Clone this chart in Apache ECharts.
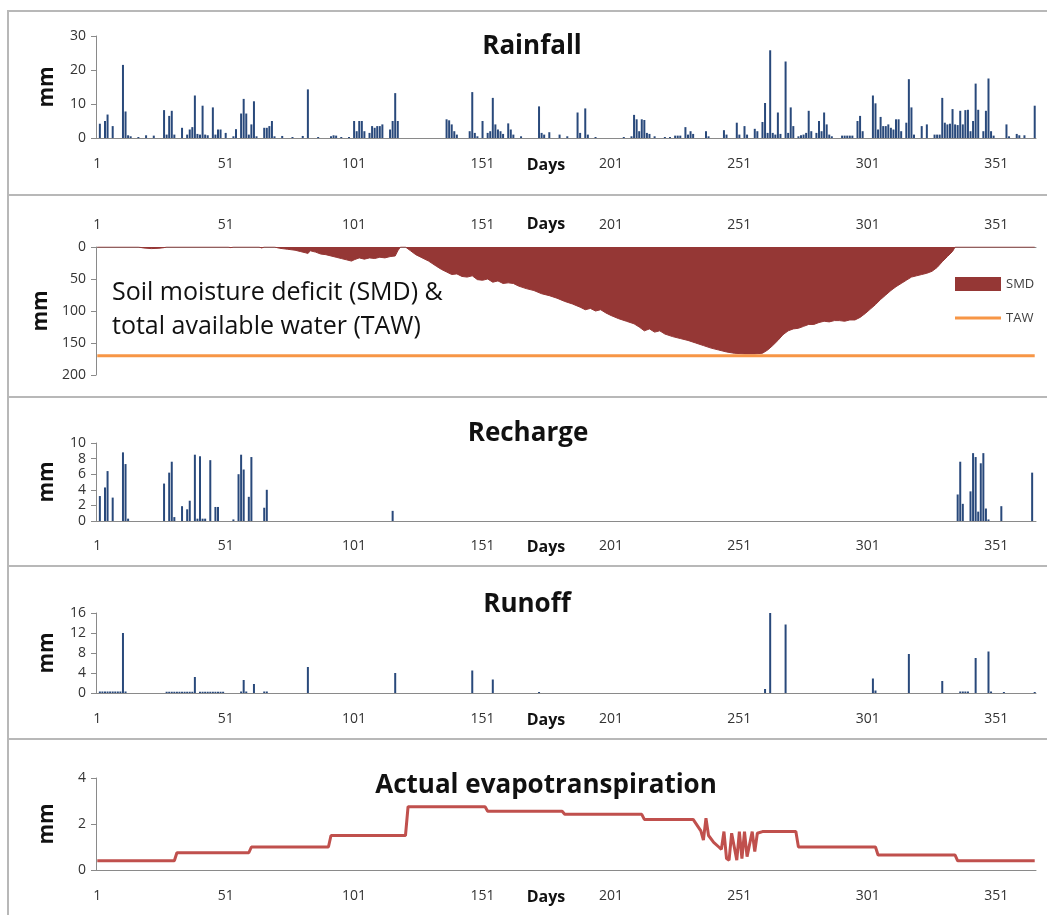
<!DOCTYPE html>
<html><head><meta charset="utf-8">
<script src="https://cdn.jsdelivr.net/npm/echarts@6/dist/echarts.min.js"></script>
<style>html,body{margin:0;padding:0;background:#fff}#c{width:1047px;height:915px}</style>
</head><body><div id="c"></div>
<script>
// ---------- data ----------
const dayCount = 366;
const xTickLabels = ['1','51','101','151','201','251','301','351'];

const rainDays = [
  2,4,5,7,11,12,13,14,17,20,
  23,27,28,29,30,31,34,36,37,38,
  39,40,41,42,43,44,46,47,48,49,
  51,54,55,57,58,59,60,61,62,63,
  66,67,68,69,70,73,77,81,83,87,
  92,93,94,96,99,101,102,103,104,105,
  107,108,109,110,111,112,115,116,117,118,
  137,138,139,140,141,146,147,148,149,151,
  153,154,155,156,157,158,159,161,162,163,
  166,173,174,175,177,181,184,188,189,191,
  192,195,206,209,210,211,212,213,214,215,
  216,218,222,224,226,227,228,230,231,232,
  233,238,239,245,246,250,251,253,254,257,
  258,260,261,262,263,264,265,266,267,269,
  270,271,272,274,275,276,277,278,279,281,
  282,283,284,285,286,287,291,292,293,294,
  295,297,298,299,303,304,305,306,307,308,
  309,310,311,312,313,314,316,317,318,319,
  322,324,327,328,329,330,331,332,333,334,
  335,336,337,338,339,340,341,342,343,344,
  346,347,348,349,350,355,356,359,360,362,
  366];
const rainMm = [
  4.2,5.0,6.9,3.5,21.5,7.8,0.8,0.5,0.3,0.8,
  0.7,8.2,1.0,6.5,8.0,1.0,3.0,1.0,2.5,3.2,
  12.5,1.2,1.0,9.5,1.0,0.8,9.0,1.0,2.5,2.5,
  1.5,0.5,2.6,7.2,11.5,7.2,1.0,4.0,10.8,0.5,
  3.0,3.0,3.5,5.0,0.5,0.6,0.3,0.6,14.3,0.3,
  0.5,0.8,0.7,0.3,0.3,5.0,2.0,5.0,5.0,2.0,
  1.5,3.5,3.0,3.5,3.5,4.0,2.5,5.0,13.2,5.0,
  5.5,5.2,4.0,2.0,1.0,2.0,13.5,1.5,0.5,5.0,
  1.5,2.0,11.8,4.0,2.5,2.0,1.2,4.3,2.5,1.0,
  0.5,9.3,1.5,1.0,1.7,1.0,0.5,7.5,1.5,8.7,
  1.0,0.3,0.3,0.5,6.8,5.5,2.0,5.5,5.3,1.5,
  1.2,0.5,0.3,0.3,0.7,0.7,0.7,3.2,1.0,2.0,
  1.2,2.0,0.5,2.3,1.0,4.5,1.0,3.5,1.0,2.7,
  2.0,4.7,10.3,1.5,25.8,1.5,1.0,7.5,1.2,22.5,
  1.5,9.0,3.5,0.5,0.8,1.0,1.5,8.0,2.0,1.5,
  5.0,2.0,7.5,4.0,1.0,0.5,0.7,0.7,0.7,0.7,
  0.7,5.0,6.5,2.0,12.5,10.2,2.5,6.2,3.5,3.5,
  4.0,3.0,2.5,5.5,5.5,2.0,4.5,17.3,9.0,1.0,
  3.5,4.0,1.0,1.0,1.0,11.8,4.5,4.0,4.2,8.5,
  4.0,3.8,8.0,4.0,8.2,8.3,2.0,5.0,16.0,8.3,
  2.0,8.0,17.5,2.0,0.7,4.0,0.5,1.2,0.8,0.8,
  9.5];

const smdDays = [
  1,17,19,22,25,27,28,52,53,54,
  64,65,66,70,72,75,78,80,82,83,
  84,86,88,90,92,94,96,98,100,101,
  103,105,107,109,111,113,115,117,118,119,
  121,123,125,127,130,133,135,137,139,141,
  143,145,147,149,151,153,155,157,159,161,
  163,165,168,171,174,177,180,183,186,189,
  191,193,195,197,199,201,204,207,210,212,
  214,216,218,220,222,225,228,231,234,237,
  240,243,246,249,253,257,260,262,264,266,
  268,270,272,274,276,278,280,282,284,286,
  288,290,292,294,296,298,300,302,304,306,
  308,310,312,314,316,318,320,322,324,326,
  328,330,332,334,335,366];
const smdMm = [
  0,0,1.5,2.5,2,1,0,0,1,0,
  0,1.5,0,0,2,3.5,5,7,9,10,
  6,8,11,12,14,16,18,20,22,20,
  17,19,17,18,16,17,15,14,6,0,
  0,6,12,16,22,30,35,39,43,42,
  46,47,45,51,52,50,55,53,57,56,
  57,61,65,68,73,76,80,85,89,94,
  98,96,100,98,103,107,112,116,120,125,
  131,128,133,131,136,140,143,146,150,154,
  158,161,164,166,167,167,166,161,154,146,
  137,131,128,127,124,121,121,118,116,117,
  115,115,116,114,114,110,104,97,90,82,
  75,68,62,57,52,47,45,43,41,38,
  32,23,15,7,0,0];
const tawDays = [1, 366];
const tawMm = [170, 170];

const rechargeDays = [2,4,5,7,11,12,13,27,29,30,31,34,36,37,39,40,41,42,43,45,47,48,54,56,57,58,60,61,66,67,116,336,337,338,341,342,343,344,345,346,347,348,353,365];
const rechargeMm   = [3.2,4.3,6.4,3.0,8.8,7.3,0.3,4.8,6.2,7.6,0.5,1.9,1.5,2.6,8.5,0.3,8.3,0.3,0.3,7.8,1.8,1.8,0.2,6.0,8.5,6.6,3.1,8.2,1.7,4.0,1.3,3.4,7.6,2.2,3.8,8.7,8.2,1.2,7.4,8.7,1.6,0.2,1.9,6.2];

const runoffDays = [2,3,4,5,6,7,8,9,10,11,12,28,29,30,31,32,33,34,35,36,37,38,39,41,42,43,44,45,46,47,48,49,50,57,58,59,62,66,67,83,117,147,155,173,261,263,269,303,304,317,330,337,338,339,340,343,348,349,354,366];
const runoffMm   = [0.3,0.3,0.3,0.3,0.3,0.3,0.3,0.3,0.3,12.0,0.3,0.25,0.25,0.25,0.25,0.25,0.25,0.25,0.25,0.25,0.25,0.25,3.2,0.25,0.25,0.25,0.25,0.25,0.25,0.25,0.25,0.25,0.25,0.3,2.6,0.3,1.8,0.3,0.3,5.2,4.0,4.5,2.7,0.2,0.8,16.0,13.7,2.9,0.5,7.8,2.4,0.3,0.3,0.3,0.3,7.0,8.3,0.3,0.2,0.2];

const etDays = [1,31,32,60,61,91,92,121,122,152,153,182,183,213,214,233,236,237,238,239,241,243,244,245,246,247,248,250,251,252,253,254,256,257,258,260,273,274,304,305,335,336,366];
const etMm   = [0.4,0.4,0.75,0.75,1.0,1.0,1.5,1.5,2.75,2.75,2.55,2.55,2.42,2.42,2.2,2.2,1.7,1.3,2.25,1.5,1.2,1.0,0.9,1.67,0.5,0.43,1.6,0.43,1.67,0.5,1.67,0.58,1.67,0.8,1.6,1.67,1.67,1.0,1.0,0.65,0.65,0.4,0.4];

// ---------- build ----------
const days = [];
for (let d = 1; d <= dayCount; d++) days.push(String(d));
const pairs = (ds, vs) => ds.map((d, i) => [String(d), vs[i]]);

const FONT = 'Open Sans';
const AX = '#8a8a8a';
const BAR = '#29497b';

const grids = [
  {top: 36,  height: 102},
  {top: 247, height: 128},
  {top: 443, height: 78},
  {top: 613, height: 80},
  {top: 778, height: 92}
].map(g => Object.assign({left: 96, width: 940, containLabel: false}, g));

function xAx(i, top, margin) {
  return {
    type: 'category', gridIndex: i, data: days, boundaryGap: true,
    position: top ? 'top' : 'bottom',
    axisLine: {onZero: false, lineStyle: {color: AX, width: 1}},
    axisTick: {interval: 9, alignWithLabel: true, length: 5, lineStyle: {color: AX}},
    axisLabel: {interval: 49, margin: margin, fontSize: 14, color: '#333', fontFamily: FONT,
      formatter: v => (xTickLabels.indexOf(v) >= 0 ? v : '')},
    splitLine: {show: false},
    name: 'Days', nameLocation: 'middle', nameGap: margin, nameMoveOverlap: false,
    nameTextStyle: {fontFamily: FONT, fontWeight: 'bold', fontSize: 16, color: '#111', padding: [0, 40, 0, 0]}
  };
}
function yAx(i, max, interval, inverse) {
  return {
    type: 'value', gridIndex: i, min: 0, max: max, interval: interval, inverse: !!inverse,
    axisLine: {show: true, lineStyle: {color: AX, width: 1}},
    axisTick: {show: true, length: 5, lineStyle: {color: AX}},
    axisLabel: {fontSize: 14, color: '#333', fontFamily: FONT, margin: 10},
    splitLine: {show: false},
    name: 'mm', nameLocation: 'middle', nameRotate: 90, nameGap: 38,
    nameTextStyle: {fontFamily: FONT, fontWeight: 'bold', fontSize: 21, color: '#111'}
  };
}

const titleStyle = {fontFamily: FONT, fontWeight: 'bold', fontSize: 26, color: '#111'};
const sep = y => ({type: 'line', silent: true, shape: {x1: 8, y1: y, x2: 1047, y2: y}, style: {stroke: '#b8b8b8', lineWidth: 2}});

const option = {
  animation: false,
  backgroundColor: '#fff',
  title: [
    {text: 'Rainfall', left: 527, top: 29, textAlign: 'center', textStyle: titleStyle},
    {text: 'Soil moisture deficit (SMD) &\ntotal available water (TAW)', left: 107, top: 271,
     textStyle: {fontFamily: FONT, fontWeight: 'normal', fontSize: 25, lineHeight: 34, color: '#111'}},
    {text: 'Recharge', left: 523, top: 416, textAlign: 'center', textStyle: titleStyle},
    {text: 'Runoff', left: 522, top: 587, textAlign: 'center', textStyle: titleStyle},
    {text: 'Actual evapotranspiration', left: 541, top: 768, textAlign: 'center', textStyle: titleStyle}
  ],
  legend: {
    orient: 'vertical', left: 955, top: 277, itemWidth: 46, itemHeight: 14, itemGap: 20, padding: 0,
    textStyle: {fontFamily: FONT, fontSize: 13, color: '#404040'},
    data: [
      {name: 'SMD', icon: 'rect'},
      {name: 'TAW', icon: 'path://M0,0L0,0.01M0,5.5H46V8.5H0ZM0,14L0,13.99', itemStyle: {color: '#f79646', borderWidth: 0}}
    ]
  },
  graphic: [
    {type: 'rect', silent: true, shape: {x: 8, y: 11, width: 1060, height: 920}, style: {fill: 'none', stroke: '#b8b8b8', lineWidth: 2}},
    sep(195), sep(397), sep(566), sep(739)
  ],
  grid: grids,
  xAxis: [xAx(0, false, 19), xAx(1, true, 15), xAx(2, false, 18), xAx(3, false, 19), xAx(4, false, 19)],
  yAxis: [yAx(0, 30, 10), yAx(1, 200, 50, true), yAx(2, 10, 2), yAx(3, 16, 4), yAx(4, 4, 2)],
  series: [
    {name: 'Rainfall', type: 'bar', xAxisIndex: 0, yAxisIndex: 0, barWidth: 2, itemStyle: {color: BAR},
     data: pairs(rainDays, rainMm)},
    {name: 'SMD', type: 'line', xAxisIndex: 1, yAxisIndex: 1, symbol: 'none', color: '#953735',
     lineStyle: {width: 1, color: '#953735'}, areaStyle: {color: '#953735', opacity: 1},
     data: pairs(smdDays, smdMm)},
    {name: 'TAW', type: 'line', xAxisIndex: 1, yAxisIndex: 1, symbol: 'none', color: '#f79646',
     lineStyle: {width: 3, color: '#f79646'}, data: pairs(tawDays, tawMm), z: 3},
    {name: 'Recharge', type: 'bar', xAxisIndex: 2, yAxisIndex: 2, barWidth: 2, itemStyle: {color: BAR},
     data: pairs(rechargeDays, rechargeMm)},
    {name: 'Runoff', type: 'bar', xAxisIndex: 3, yAxisIndex: 3, barWidth: 2, itemStyle: {color: BAR},
     data: pairs(runoffDays, runoffMm)},
    {name: 'Actual evapotranspiration', type: 'line', xAxisIndex: 4, yAxisIndex: 4, symbol: 'none',
     color: '#c0504d', lineStyle: {width: 3, color: '#c0504d'}, data: pairs(etDays, etMm)}
  ]
};

const chart = echarts.init(document.getElementById('c'), null, {renderer: 'canvas'});
chart.setOption(option);
</script></body></html>
